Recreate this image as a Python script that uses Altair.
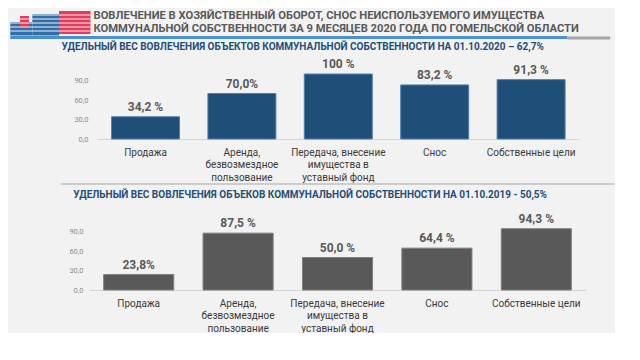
import altair as alt
import pandas as pd

# ---- data ----
categories = [
    "Продажа",
    "Аренда,|безвозмездное|пользование",
    "Передача, внесение|имущества в|уставный фонд",
    "Снос",
    "Собственные цели",
]
values_2020 = [34.2, 70.0, 100.0, 83.2, 91.3]
labels_2020 = ["34,2 %", "70,0%", "100 %", "83,2 %", "91,3 %"]
values_2019 = [23.8, 87.5, 50.0, 64.4, 94.3]
labels_2019 = ["23,8%", "87,5 %", "50,0 %", "64,4 %", "94,3 %"]
y_ticks = [0, 30, 60, 90]

title_line1 = "ВОВЛЕЧЕНИЕ В ХОЗЯЙСТВЕННЫЙ ОБОРОТ, СНОС НЕИСПОЛЬЗУЕМОГО ИМУЩЕСТВА"
title_line2 = "КОММУНАЛЬНОЙ СОБСТВЕННОСТИ ЗА 9 МЕСЯЦЕВ 2020 ГОДА ПО ГОМЕЛЬСКОЙ ОБЛАСТИ"
subtitle_2020 = "УДЕЛЬНЫЙ ВЕС ВОВЛЕЧЕНИЯ ОБЪЕКТОВ КОММУНАЛЬНОЙ СОБСТВЕННОСТИ НА 01.10.2020 – 62,7%"
subtitle_2019 = "УДЕЛЬНЫЙ ВЕС ВОВЛЕЧЕНИЯ ОБЪЕКОВ КОММУНАЛЬНОЙ СОБСТВЕННОСТИ НА 01.10.2019 - 50,5%"

FONT = "Roboto"
SUB_COLOR = "#1f4e79"
LOGO_RED = "#e53a5c"
LOGO_BLUE = "#2f6ea8"


def one_row(text=""):
    return alt.Chart(pd.DataFrame({"t": [text]}))


def heading(text, x, y, size, color):
    return one_row(text).mark_text(
        align="left", baseline="middle", font=FONT, fontSize=size,
        fontWeight="bold", color=color,
    ).encode(x=alt.value(x), y=alt.value(y), text="t:N")


def hline(x1, x2, y, color, width, opacity=1.0):
    return one_row().mark_rule(color=color, strokeWidth=width, opacity=opacity).encode(
        x=alt.value(x1), x2=alt.value(x2), y=alt.value(y)
    )


def block(x1, x2, y1, y2, color):
    return one_row().mark_rect(color=color).encode(
        x=alt.value(x1), x2=alt.value(x2), y=alt.value(y1), y2=alt.value(y2)
    )


def logo():
    parts = [
        block(-78.7, -56.7, -52, -38.5, LOGO_BLUE),
        block(-69, -60, -58, -46, LOGO_RED),
        block(-56.7, -30, -60, -38.5, LOGO_BLUE),
        block(-30, 1.5, -63, -40, LOGO_RED),
    ]
    for yy in [-59, -55, -51, -47, -43]:
        parts.append(hline(-78.7, 1.5, yy, "#f2f2f2", 1.2))
    return parts


def panel(values, labels, fill, stroke, width, xscale, ylab_pad, extra):
    df = pd.DataFrame({"cat": categories, "val": values, "lab": labels})
    x_axis = alt.Axis(
        title=None, labelAngle=0, labelExpr="split(datum.value, '|')",
        ticks=False, domainColor="#d4d4d4", labelFont=FONT, labelFontSize=10,
        labelColor="#3a3a3a", labelLineHeight=12.5, labelPadding=8, labelLimit=0,
    )
    y_axis = alt.Axis(
        title=None, values=y_ticks, labelOverlap=False, tickCount=4,
        labelExpr="replace(format(datum.value, '.1f'), '.', ',')",
        ticks=False, domain=False, grid=False, labelFont=FONT,
        labelFontSize=7.5, labelColor="#8c8c8c", labelPadding=ylab_pad,
    )
    x = alt.X("cat:N", sort=categories, scale=xscale, axis=x_axis)
    y = alt.Y("val:Q", scale=alt.Scale(domain=[0, 100]), axis=y_axis)
    base = alt.Chart(df)
    bars = base.mark_bar(color=fill, stroke=stroke, strokeWidth=1).encode(x=x, y=y)
    text = base.mark_text(
        dy=-10, font=FONT, fontSize=12, fontWeight="bold", color="#595959"
    ).encode(x=x, y=y, text="lab:N")
    return alt.layer(bars, text, *extra).properties(width=width, height=65)


top = panel(
    values_2020, labels_2020, "#1f4e79", "#4f7fae", 491,
    alt.Scale(range=[8.3, 490.3], paddingInner=0.295, paddingOuter=0.1475),
    1,
    logo() + [
        hline(-78.7, -70, -65.2, "#f2f2f2", 1, 0),
        hline(-78.7, 478.3, -36.6, "#4a8fd4", 3),
        hline(478.3, 521.3, -36, "#a6a6a6", 3),
        heading(title_line1, 4.5, -57.6, 11.2, "#595959"),
        heading(title_line2, 4.5, -44.6, 11.2, "#595959"),
        heading(subtitle_2020, -27.4, -27.5, 10, SUB_COLOR),
    ],
)

bottom = panel(
    values_2019, labels_2019, "#595959", "#7f7f7f", 497,
    alt.Scale(paddingInner=0.295, paddingOuter=0.1475),
    6,
    [
        hline(-78.7, -70, -41, "#a6a6a6", 1, 0),
        hline(-28.4, 525.3, -41, "#a6a6a6", 1),
        heading(subtitle_2019, -15.7, -30.3, 10, SUB_COLOR),
    ],
)

chart = (
    alt.vconcat(top, bottom, spacing=1)
    .configure(background="#f2f2f2", padding=0)
    .configure_view(stroke=None)
    .configure_axisY(labelOverlap=False)
)

chart.save("out.html", embed_options={"renderer": "svg", "actions": False})
